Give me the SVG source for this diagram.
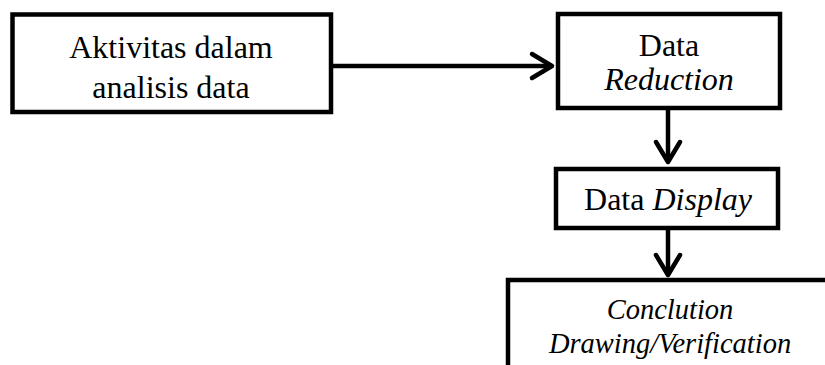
<svg xmlns="http://www.w3.org/2000/svg" width="825" height="365" viewBox="0 0 825 365">
<style>
.box{fill:#fff;stroke:#000;stroke-width:4.5}
text{font-family:'Liberation Serif','Times New Roman',Tinos,'DejaVu Serif',serif;font-size:32px;fill:#000;text-anchor:middle}
.i{font-style:italic}
.s{font-size:28.5px}
.conn{stroke:#000;stroke-width:4.5;fill:none}
</style>
<defs>
<marker id="chev" markerUnits="userSpaceOnUse" markerWidth="34" markerHeight="34" viewBox="0 0 34 34" refX="26" refY="17" orient="auto">
<path d="M6,5 L26,17 L6,29" fill="none" stroke="#000" stroke-width="4.5" stroke-linecap="round" stroke-linejoin="round"/>
</marker>
</defs>
<g id="connectors">
<line class="conn" x1="331" y1="66" x2="552" y2="66" marker-end="url(#chev)"/>
<line class="conn" x1="668" y1="108" x2="668" y2="162" marker-end="url(#chev)"/>
<line class="conn" x1="668" y1="228" x2="668" y2="275" marker-end="url(#chev)"/>
</g>
<g id="node-aktivitas">
<rect class="box" x="12.5" y="14.5" width="318.5" height="97.5"/>
<text x="171" y="58">Aktivitas dalam</text>
<text x="171" y="98">analisis data</text>
</g>
<g id="node-reduction">
<rect class="box" x="558" y="14" width="222" height="94"/>
<text x="669" y="56">Data</text>
<text class="i" x="669" y="90">Reduction</text>
</g>
<g id="node-display">
<rect class="box" x="556" y="169" width="222" height="59"/>
<text x="668" y="210">Data <tspan class="i">Display</tspan></text>
</g>
<g id="node-conclusion">
<rect class="box" x="508" y="280" width="340" height="120"/>
<text class="i s" x="670" y="319">Conclution</text>
<text class="i s" x="670" y="353">Drawing/Verification</text>
</g>
</svg>
